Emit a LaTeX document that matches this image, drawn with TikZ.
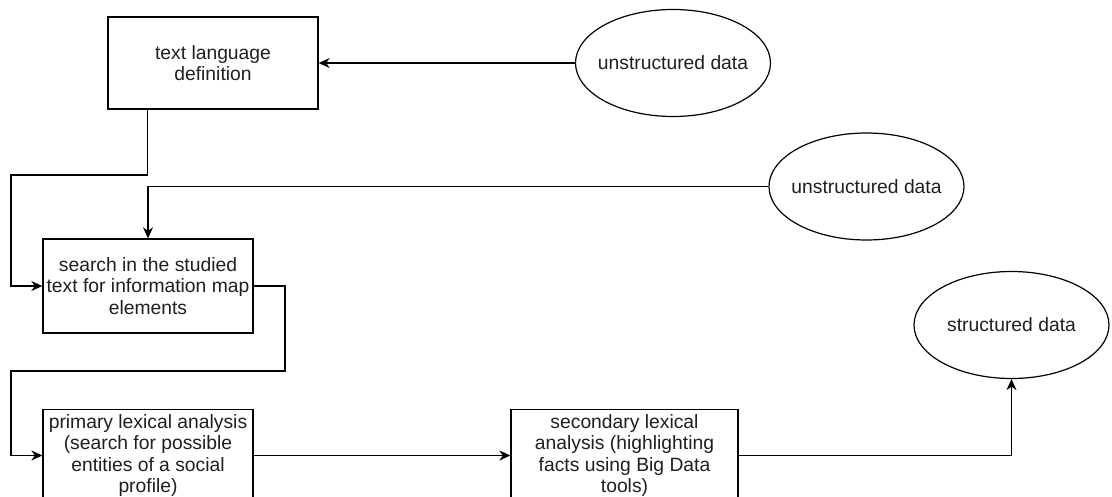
\documentclass[tikz,border=0pt]{standalone}
\usepackage{fontspec}
\setmainfont{Liberation Sans}
\usetikzlibrary{arrows.meta,shapes.geometric}
\tikzset{
  x=1pt, y=-1pt,
  every node/.style={font=\fontsize{19.3}{21.3}\selectfont, text=black!88, align=center},
  procbox/.style={draw, line width=1.3pt, rectangle, minimum width=210pt, minimum height=92pt, inner sep=0pt},
  databubble/.style={draw, line width=1.2pt, ellipse, minimum width=195pt, minimum height=107pt, inner sep=0pt},
  arr/.style={line width=1.3pt, -{Stealth[length=11pt,width=10pt,inset=3.5pt]}},
}
\begin{document}
\begin{tikzpicture}
\clip (0,0) rectangle (1112,497);
\useasboundingbox (0,0) rectangle (1112,497);

\node[procbox] (box1) at (213,63) {text language\\definition};
\node[procbox, minimum height=94pt] (box2) at (148,286) {search in the studied\\text for information map\\elements};
\node[procbox] (box4) at (148,455.5) {primary lexical analysis\\(search for possible\\entities of a social\\profile)};
\node[procbox, minimum width=227pt] (box3) at (624.5,455.5) {secondary lexical\\analysis (highlighting\\facts using Big Data\\tools)};

\node[databubble, label=center:{unstructured data}] (ell1) at (673,63) {};
\node[databubble, label=center:{unstructured data}] (ell2) at (866.5,186.5) {};
\node[databubble, label=center:{structured data}] (ell3) at (1011.5,325) {};

\coordinate (j1) at (11,175);
\coordinate (j2) at (285,371);
\coordinate (j3) at (11,371);

\draw[arr] (ell1.west) -- (box1.east);
\draw[arr] ([xshift=40pt]box1.south west) |- (j1) |- (box2.west);
\draw[arr] (ell2.west) -| (box2.north);
\draw[arr] (box2.east) -| (j2) -- (j3) |- (box4.west);
\draw[arr] (box4.east) -- (box3.west);
\draw[arr] (box3.east) -| (ell3.south);
\end{tikzpicture}
\end{document}
